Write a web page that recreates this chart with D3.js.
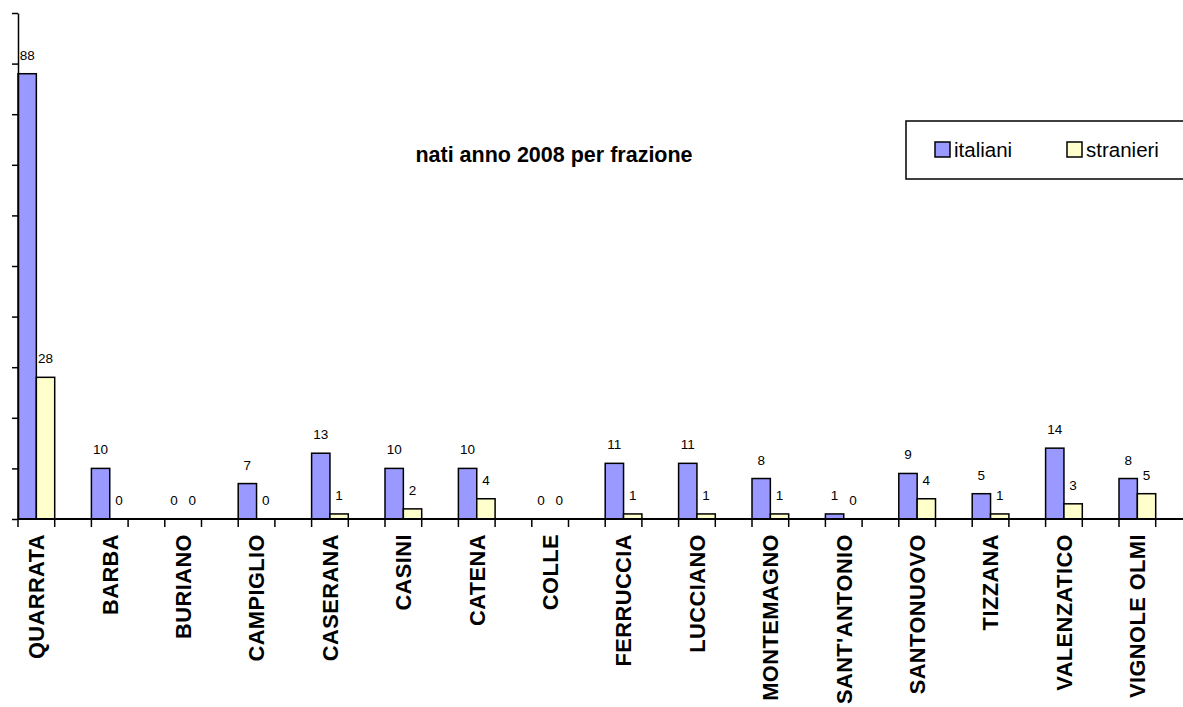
<!DOCTYPE html>
<html>
<head>
<meta charset="utf-8">
<script src="https://cdn.jsdelivr.net/npm/d3@7"></script>
<style>
  body { margin: 0; background: #fff; }
  svg { display: block; font-family: Arial, "Liberation Sans", sans-serif; }
</style>
</head>
<body>
<script>
// Dati: nati anno 2008 per frazione
var frazioni = ["QUARRATA", "BARBA", "BURIANO", "CAMPIGLIO", "CASERANA", "CASINI", "CATENA", "COLLE",
                "FERRUCCIA", "LUCCIANO", "MONTEMAGNO", "SANT'ANTONIO", "SANTONUOVO", "TIZZANA",
                "VALENZATICO", "VIGNOLE OLMI"];
var italiani  = [88, 10, 0, 7, 13, 10, 10, 0, 11, 11, 8, 1, 9, 5, 14, 8];
var stranieri = [28, 0, 0, 0, 1, 2, 4, 0, 1, 1, 1, 0, 4, 1, 3, 5];
var serie = ["italiani", "stranieri"];
var colori = ["#9999ff", "#ffffcc"];
var yTicks = [0, 10, 20, 30, 40, 50, 60, 70, 80, 90, 100];

var larghezza = 1183, altezza = 707;

var svg = d3.select("body").append("svg")
            .attr("width", larghezza)
            .attr("height", altezza);

// Scale: ogni frazione occupa due "slot", le barre solo nel primo
var x = d3.scaleBand().domain(frazioni).range([18, 1192.4]).padding(0);
var y = d3.scaleLinear().domain([0, 100]).range([519, 13]);
var larghezzaBarra = x.step() / 4;

function valori(d, i) {
    return [italiani[i], stranieri[i]].map(function(v, s) { return { c: d, v: v, s: s }; });
}

// Barre
var gruppi = svg.append("g").selectAll("g")
    .data(frazioni)
    .enter().append("g");

gruppi.selectAll("rect")
    .data(valori)
    .enter().append("rect")
    .attr("x", function(d) { return x(d.c) + d.s * larghezzaBarra; })
    .attr("y", function(d) { return y(d.v); })
    .attr("width", larghezzaBarra)
    .attr("height", function(d) { return y(0) - y(d.v); })
    .attr("fill", function(d) { return colori[d.s]; })
    .attr("stroke", "#000")
    .attr("stroke-width", 1.5)
    .attr("display", function(d) { return d.v === 0 ? "none" : null; });

// Etichette valori
gruppi.selectAll("text")
    .data(valori)
    .enter().append("text")
    .attr("x", function(d) { return x(d.c) + d.s * larghezzaBarra + larghezzaBarra / 2; })
    .attr("y", function(d) { return y(d.v) - 14; })
    .attr("text-anchor", "middle")
    .attr("font-size", "13.5px")
    .attr("fill", "#000")
    .text(function(d) { return d.v; });

// Asse Y (senza etichette)
svg.append("g")
   .attr("transform", "translate(18,0)")
   .call(d3.axisLeft(y).tickValues(yTicks).tickFormat("").tickSize(6).tickSizeOuter(0))
   .call(function(g) {
       g.selectAll("path, line").attr("stroke", "#000").attr("stroke-width", 1.5);
   });

// Asse X
var asseX = svg.append("g");
asseX.append("line")
     .attr("x1", 18).attr("x2", larghezza)
     .attr("y1", y(0)).attr("y2", y(0))
     .attr("stroke", "#000").attr("stroke-width", 2);

var posTick = [];
frazioni.forEach(function(c) { posTick.push(x(c), x(c) + x.step() / 2); });
asseX.selectAll("line.tick")
     .data(posTick)
     .enter().append("line")
     .attr("class", "tick")
     .attr("x1", function(d) { return d; }).attr("x2", function(d) { return d; })
     .attr("y1", y(0)).attr("y2", y(0) + 8)
     .attr("stroke", "#000").attr("stroke-width", 1.5);

// Etichette frazioni (ruotate)
asseX.selectAll("text")
     .data(frazioni)
     .enter().append("text")
     .attr("transform", function(d) { return "translate(" + (x(d) + larghezzaBarra) + ",534) rotate(-90)"; })
     .attr("text-anchor", "end")
     .attr("dy", "0.36em")
     .attr("font-size", "21.8px")
     .attr("font-weight", "bold")
     .attr("letter-spacing", "0.45px")
     .text(function(d) { return d; });

// Titolo
svg.append("text")
   .attr("x", 554)
   .attr("y", 162)
   .attr("text-anchor", "middle")
   .attr("font-size", "21.5px")
   .attr("font-weight", "bold")
   .text("nati anno 2008 per frazione");

// Legenda
var legenda = svg.append("g");
legenda.append("rect")
       .attr("x", 906).attr("y", 121)
       .attr("width", 320).attr("height", 58)
       .attr("fill", "#fff").attr("stroke", "#000").attr("stroke-width", 1.5);

var posLegenda = [935, 1067];
var voci = legenda.selectAll("g")
    .data(serie)
    .enter().append("g")
    .attr("transform", function(d, i) { return "translate(" + posLegenda[i] + ",142)"; });
voci.append("rect")
    .attr("width", 15).attr("height", 15)
    .attr("fill", function(d, i) { return colori[i]; })
    .attr("stroke", "#000").attr("stroke-width", 1.5);
voci.append("text")
    .attr("x", 19).attr("y", 15)
    .attr("font-size", "20.5px")
    .text(function(d) { return d; });
</script>
</body>
</html>
